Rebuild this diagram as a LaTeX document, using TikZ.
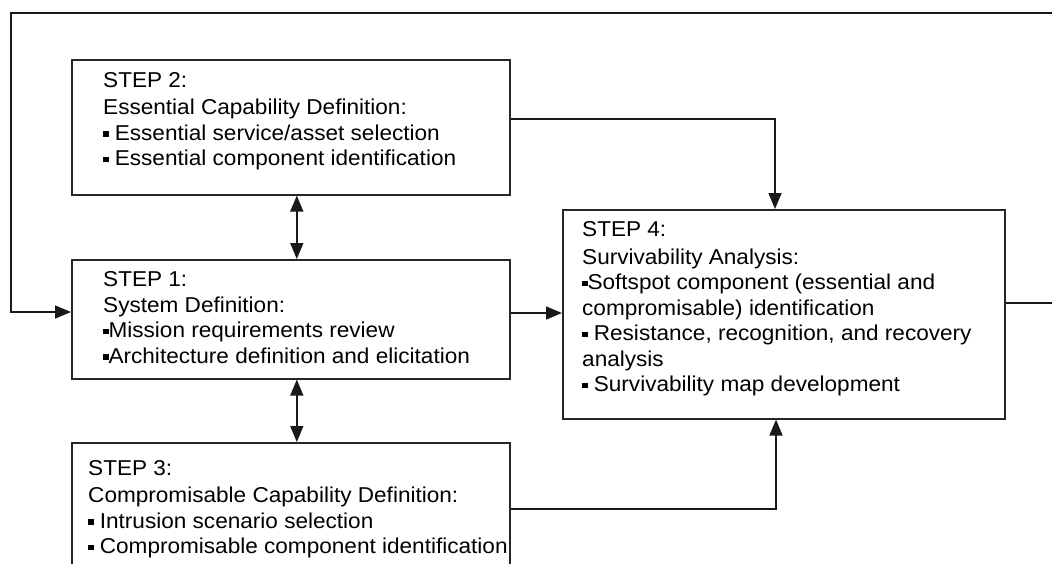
\documentclass[tikz,border=0pt]{standalone}
\usepackage{fontspec}
\setmainfont{Liberation Sans}[FakeStretch=1.05]
\usetikzlibrary{calc,arrows.meta}
\newcommand\bul{\rule[0.17em]{0.25em}{0.25em}}
\begin{document}
\begin{tikzpicture}[x=1pt,y=-1pt,
  stepbox/.style={draw=black!85,line width=1.6pt,rectangle,anchor=north west,inner sep=0pt},
  steptext/.style={anchor=north west,inner sep=0pt,align=left,font=\fontsize{21.5}{25.5}\selectfont},
  link/.style={draw=black!90,line width=1.6pt},
  tip/.style={Triangle[length=16pt,width=13pt]},
  arr/.style={link,-{Triangle[length=16pt,width=13pt]}},
  dbl/.style={link,{Triangle[length=16pt,width=13pt]}-{Triangle[length=16pt,width=13pt]}}]
\useasboundingbox (0,0) rectangle (1052,563);
\clip (0,0) rectangle (1052,563);

% step boxes
\node[stepbox,minimum width=438pt,minimum height=135pt] (s2) at (71,59) {};
\node[stepbox,minimum width=438pt,minimum height=119pt] (s1) at (71,259) {};
\node[stepbox,minimum width=438pt,minimum height=160pt] (s3) at (71,442) {};
\node[stepbox,minimum width=442pt,minimum height=209pt] (s4) at (562,209) {};

% box texts (first baseline sits about 15.5pt below the node top)
\node[steptext] (t2) at (103,72.5) {STEP 2:\\[1.5pt]Essential Capability Definition:\\\bul\ Essential service/asset selection\\\bul\ Essential component identification};
\node[steptext] (t1) at (103,271.5) {STEP 1:\\System Definition:\\\bul Mission requirements review\\\bul Architecture definition and elicitation};
\node[steptext] (t3) at (88,460.5) {STEP 3:\\[1.5pt]Compromisable Capability Definition:\\\bul\ Intrusion scenario selection\\\bul\ Compromisable component identification};
\node[steptext] (t4) at (582,221.5) {STEP 4:\\[2pt]Survivability Analysis:\\\bul Softspot component (essential and\\compromisable) identification\\\bul\ Resistance, recognition, and recovery\\analysis\\\bul\ Survivability map development};

% connectors
\draw[dbl] ($(s2.south)+(6,0)$) -- ($(s1.north)+(6,0)$);
\draw[dbl] ($(s1.south)+(6,0)$) -- ($(s3.north)+(6,0)$);
\draw[arr] ($(s2.north east)+(0,60)$) -| ($(s4.north west)+(213,0)$);
\draw[arr] ($(s3.north east)+(0,67)$) -| ($(s4.south west)+(214,0)$);
\draw[arr] ($(s1.north east)+(0,54)$) coordinate (a) -- (a -| s4.west);

% feedback loop from step 4 back to step 1
\coordinate (fbR) at (1060,13);
\coordinate (fbL) at (11,13);
\draw[arr] ($(s4.north east)+(0,94)$) -| (fbR) -- (fbL) |- ($(s1.north west)+(0,53)$);
\end{tikzpicture}
\end{document}
